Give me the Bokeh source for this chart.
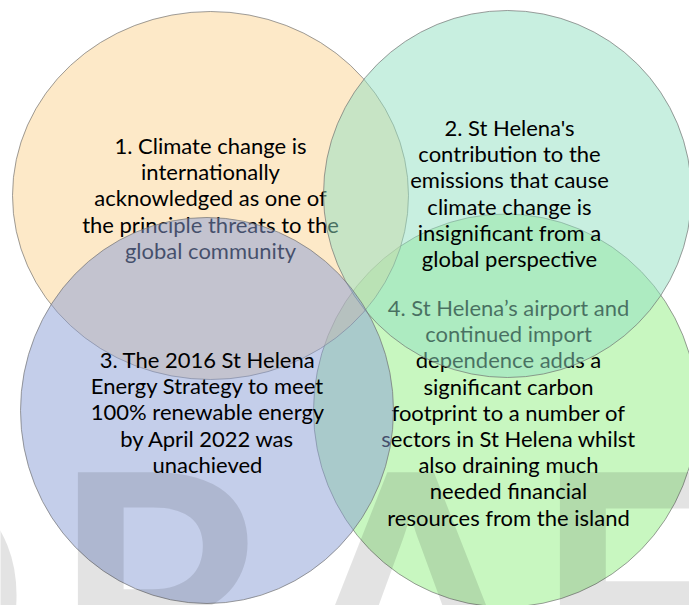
from bokeh.plotting import figure
from bokeh.models import Range1d, ColumnDataSource
from bokeh.core.properties import value
from bokeh.embed import file_html
from bokeh.resources import INLINE

# ---------------- data: the four statements of the Venn diagram ----------------
statement_1 = ["1. Climate change is", "internationally", "acknowledged as one of",
               "the principle threats to the", "global community"]
statement_2 = ["2. St Helena's", "contribution to the", "emissions that cause",
               "climate change is", "insignificant from a", "global perspective"]
statement_3 = ["3. The 2016 St Helena", "Energy Strategy to meet", "100% renewable energy",
               "by April 2022 was", "unachieved"]
statement_4 = ["4. St Helena\u2019s airport and", "continued import", "dependence adds a",
               "significant carbon", "footprint to a number of", "sectors in St Helena whilst",
               "also draining much", "needed financial", "resources from the island"]
watermark_letters = ["D", "R", "A", "F", "T"]

# ---------------- layout (pixel space of the picture) ----------------
W, H = 689, 605
circles = {
    # cx, cy, w, h, fill colour
    1: (210, 195, 396, 368, "#fbd391"),
    2: (507, 193.5, 368, 367, "#91dfc1"),
    3: (206.5, 410, 373, 386, "#899dd5"),
    4: (505, 410, 384, 393, "#91ef81"),
}
text_pos = {1: (210, 145), 2: (509, 127), 3: (207, 359), 4: (508, 307)}
LINE_STEP = 26.2
FONT = "Lato"
FONT_SIZE = "22px"

WM_SIZE = 340
WM_Y = 585.5            # anchor of the (middle-baselined) watermark letters
wm_anchor_x = [29, 50, 410, 532, 712]
wm_align = ["right", "left", "center", "left", "left"]

p = figure(width=W, height=H, x_range=Range1d(0, W), y_range=Range1d(H, 0),
           output_backend="svg", toolbar_location=None, min_border=0,
           x_axis_location=None, y_axis_location=None)
p.grid.visible = False
p.outline_line_color = None
p.background_fill_color = "white"
p.border_fill_color = "white"


def draw_circle(k):
    cx, cy, w, h, col = circles[k]
    p.ellipse(x=[cx], y=[cy], width=[w], height=[h], fill_color=col, fill_alpha=0.5,
              line_color="#6f6f6f", line_alpha=0.85, line_width=0.8)


def draw_text(k, lines):
    cx, y0 = text_pos[k]
    src = ColumnDataSource(dict(x=[cx] * len(lines),
                                y=[y0 + i * LINE_STEP for i in range(len(lines))],
                                t=lines))
    p.text(x="x", y="y", text="t", source=src, text_font=value(FONT),
           text_font_size=FONT_SIZE, text_color="black",
           text_align="center", text_baseline="middle")


draw_circle(4)
draw_text(4, statement_4)
draw_circle(1)
draw_text(1, statement_1)
draw_circle(2)
draw_text(2, statement_2)
draw_circle(3)
draw_text(3, statement_3)

for letter, ax, al in zip(watermark_letters, wm_anchor_x, wm_align):
    p.text(x=[ax], y=[WM_Y], text=[letter], text_font=value(FONT),
           text_font_style=value("bold"),
           text_font_size=value(f"{WM_SIZE}px"), text_color="black", text_alpha=0.11,
           text_align=al, text_baseline="middle")

open("out.html", "w").write(file_html(p, INLINE))
